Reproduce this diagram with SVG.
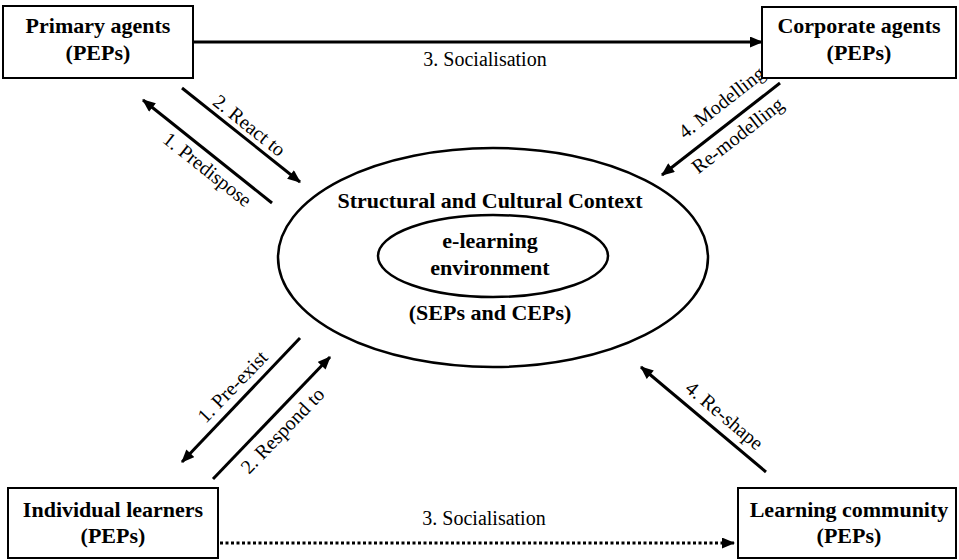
<svg xmlns="http://www.w3.org/2000/svg" width="959" height="560" viewBox="0 0 959 560">
<style>
.box{fill:#fff;stroke:#000;stroke-width:2}
.ell{fill:none;stroke:#000;stroke-width:2.5}
.b{font-family:"Liberation Serif","Times New Roman",serif;font-weight:bold;font-size:22px;text-anchor:middle;fill:#000}
.r{font-family:"Liberation Serif","Times New Roman",serif;font-size:20px;text-anchor:middle;fill:#000}
.ln{stroke:#000;stroke-width:3;fill:none;marker-end:url(#ah)}
.dot{stroke:#000;stroke-width:3;fill:none;stroke-dasharray:3 2.5;marker-end:url(#ah)}
</style>
<defs>
<marker id="ah" viewBox="0 0 12 10" refX="11" refY="5" markerWidth="14" markerHeight="11" markerUnits="userSpaceOnUse" orient="auto">
<path d="M0,0 L12,5 L0,10 Z" fill="#000"/>
</marker>
</defs>
<rect width="959" height="560" fill="#fff"/>
<g id="connectors">
<line class="ln" x1="193" y1="42" x2="762" y2="42"/>
<text class="r" x="485" y="66">3. Socialisation</text>
<line class="ln" x1="182" y1="88" x2="300" y2="182"/>
<line class="ln" x1="272" y1="203" x2="143" y2="100"/>
<text class="r" transform="translate(249,126) rotate(38.5)" y="6">2. React to</text>
<text class="r" transform="translate(207,170) rotate(38.5)" y="6">1. Predispose</text>
<line class="ln" x1="780" y1="83" x2="662" y2="175"/>
<text class="r" transform="translate(722,103) rotate(-38)" y="6">4. Modelling</text>
<text class="r" transform="translate(738,136) rotate(-38)" y="6">Re-modelling</text>
<line class="ln" x1="300" y1="338" x2="182" y2="462"/>
<line class="ln" x1="213" y1="479" x2="330" y2="357"/>
<text class="r" transform="translate(233,387) rotate(-46)" y="6">1. Pre-exist</text>
<text class="r" transform="translate(283,431) rotate(-46)" y="6">2. Respond to</text>
<line class="ln" x1="766" y1="472" x2="641" y2="367"/>
<text class="r" transform="translate(724,416) rotate(40)" y="6">4. Re-shape</text>
<line class="dot" x1="220" y1="543" x2="734" y2="543"/>
<text class="r" x="484" y="525">3. Socialisation</text>
</g>
<g id="primary">
<rect class="box" x="3" y="6" width="190" height="72"/>
<text class="b" x="98" y="33">Primary agents</text>
<text class="b" x="98" y="60">(PEPs)</text>
</g>
<g id="corporate">
<rect class="box" x="762" y="7" width="194" height="71"/>
<text class="b" x="859" y="33">Corporate agents</text>
<text class="b" x="859" y="60">(PEPs)</text>
</g>
<g id="context">
<ellipse class="ell" cx="493" cy="257.5" rx="215" ry="109.5"/>
<text class="b" x="490" y="208">Structural and Cultural Context</text>
<text class="b" x="490" y="320">(SEPs and CEPs)</text>
</g>
<g id="elearning">
<ellipse class="ell" cx="493" cy="256" rx="115" ry="41"/>
<text class="b" x="490" y="248">e-learning</text>
<text class="b" x="490" y="275">environment</text>
</g>
<g id="individual">
<rect class="box" x="8" y="488" width="210" height="70"/>
<text class="b" x="113" y="517">Individual learners</text>
<text class="b" x="113" y="543">(PEPs)</text>
</g>
<g id="community">
<rect class="box" x="738" y="488" width="218" height="70"/>
<text class="b" x="849" y="517">Learning community</text>
<text class="b" x="849" y="543">(PEPs)</text>
</g>
</svg>
